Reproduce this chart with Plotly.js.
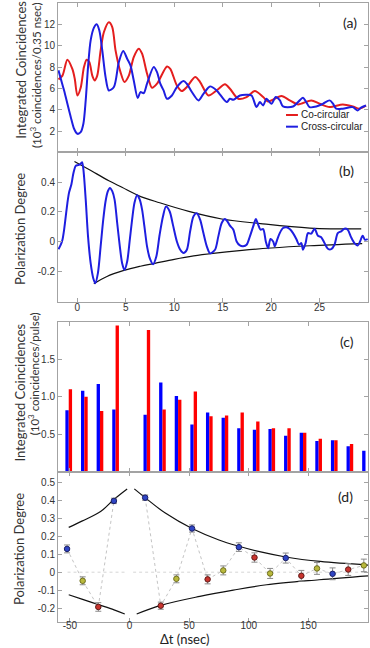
<!DOCTYPE html>
<html>
<head>
<meta charset="utf-8">
<script src="https://cdn.plot.ly/plotly-3.0.1.min.js"></script>
<style>
  body { margin: 0; background: #fff; }
  #chart { width: 370px; height: 648px; }
</style>
</head>
<body>
<div id="chart"></div>
<script>
// (a) integrated coincidences per 0.35 ns bin, in 10^3
const coT = [-1.95, -1.54, -1.03, -0.51, -0.27, 0, 0.34, 0.68, 0.96, 1.23, 1.54, 1.78, 2.05, 2.40, 2.74, 3.25, 3.60, 3.94, 4.45, 4.86,
  5.31, 5.82, 6.34, 6.68, 7.19, 7.71, 8.22, 9.25, 9.59, 10.27, 10.79, 11.30, 12.16, 12.67, 13.53, 14.38, 15.24, 15.75, 16.61, 17.47,
  18.32, 19.18, 19.69, 21.06, 21.92, 22.77, 24.14, 25.0, 26.03, 27.4, 28.42, 29.1, 29.8];
const coVal = [6.85, 7.2, 8.69, 7.8, 6.9, 5.34, 6.06, 8.0, 8.69, 8.47, 7.2, 6.75, 7.2, 9.56, 11.28, 12.2, 11.75, 9.56, 7.53, 6.6,
  7.2, 8.94, 9.72, 9.25, 7.4, 6.06, 6.44, 8.06, 7.84, 6.28, 5.75, 6.13, 7.06, 6.6, 5.34, 5.81, 6.38, 5.97, 5.03, 5.19,
  5.75, 5.19, 4.78, 5.28, 4.88, 4.5, 4.88, 4.56, 4.25, 4.5, 4.31, 4.1, 4.4];
const crossT = [-1.95, -1.71, -1.37, -1.03, -0.68, -0.34, 0, 0.34, 0.62, 0.86, 1.10, 1.37, 1.71, 1.99, 2.26, 2.57, 2.91, 3.25, 3.77, 4.28,
  4.73, 5.14, 5.48, 5.82, 6.23, 6.51, 6.85, 7.19, 7.88, 8.22, 8.56, 8.90, 9.25, 9.76, 10.27, 10.96, 11.30, 11.82, 12.5, 13.01,
  13.70, 14.38, 15.41, 15.75, 16.10, 16.78, 17.47, 17.98, 18.49, 18.84, 19.18, 19.52, 20.03, 20.48, 20.89, 21.23, 22.26, 22.95, 23.29, 23.63,
  23.97, 24.66, 25.34, 26.03, 26.37, 26.71, 27.40, 28.42, 28.94, 29.28, 29.79];
const crossVal = [7.69, 6.9, 5.8, 4.56, 3.31, 2.22, 1.75, 1.9, 2.69, 4.88, 8.0, 10.5, 11.69, 12.0, 11.44, 9.56, 7.06, 5.81, 6.13, 8.47,
  9.5, 8.78, 8.16, 6.75, 5.1, 5.66, 5.56, 6.44, 8.0, 7.53, 6.44, 5.81, 5.03, 5.34, 6.13, 6.69, 6.44, 5.66, 4.88, 5.5,
  6.19, 5.81, 4.72, 5.03, 4.94, 5.34, 5.4, 5.34, 4.25, 4.72, 4.41, 5.03, 4.56, 5.19, 4.9, 4.31, 4.31, 4.88, 5.13, 4.72,
  4.25, 4.3, 4.56, 4.88, 4.6, 4.1, 4.1, 4.25, 3.94, 4.2, 4.4];

// (b) polarization degree and its envelope
const polT = [-1.95, -1.71, -1.54, -1.37, -1.20, -1.03, -0.86, -0.62, -0.41, -0.17,
  0.07, 0.27, 0.48, 0.62, 0.86, 1.10, 1.37, 1.64, 1.85, 2.12,
  2.40, 2.67, 2.91, 3.15, 3.36, 3.60, 3.84, 4.11, 4.38, 4.62,
  4.86, 5.14, 5.41, 5.65, 5.89, 6.16, 6.44, 6.68, 6.92, 7.19,
  7.47, 7.81, 8.15, 8.49, 8.84, 9.14, 9.52, 9.86, 10.27, 10.62,
  10.96, 11.30, 11.64, 11.99, 12.33, 12.67, 13.01, 13.36, 13.70, 14.21,
  14.55, 14.90, 15.24, 15.48, 15.75, 16.10, 16.44, 16.78, 17.12, 17.47,
  17.81, 18.15, 18.42, 18.66, 18.90, 19.18, 19.45, 19.69, 19.93, 20.21,
  20.38, 20.62, 20.89, 21.23, 21.58, 21.92, 22.26, 22.60, 22.88, 23.12,
  23.29, 23.56, 23.80, 24.14, 24.49, 24.83, 25.17, 25.51, 25.86, 26.20,
  26.54, 26.88, 27.23, 27.57, 27.91, 28.25, 28.60, 28.94, 29.18, 29.45,
  29.69, 29.97];
const polVal = [-0.05, -0.02, 0.013, 0.08, 0.17, 0.26, 0.33, 0.385, 0.46, 0.51,
  0.515, 0.52, 0.535, 0.486, 0.283, 0.036, -0.144, -0.245, -0.279, -0.211,
  -0.031, 0.148, 0.272, 0.34, 0.362, 0.34, 0.283, 0.126, -0.031, -0.144,
  -0.189, -0.133, 0.013, 0.148, 0.26, 0.313, 0.283, 0.216, 0.103, -0.031,
  -0.11, -0.151, -0.099, 0.047, 0.171, 0.236, 0.205, 0.115, 0.002, -0.054,
  -0.076, -0.054, 0.07, 0.171, 0.191, 0.148, 0.058, -0.031, -0.078, -0.054,
  0.036, 0.126, 0.153, 0.137, 0.108, 0.081, 0.002, -0.025, -0.03, -0.02,
  0.036, 0.103, 0.153, 0.115, 0.081, 0.085, 0.002, -0.043, 0.018, 0.002,
  -0.031, 0.013, 0.058, 0.092, 0.097, 0.085, 0.058, 0.018, -0.02, -0.009,
  -0.054, -0.009, 0.058, 0.054, 0.088, 0.04, 0.031, -0.009, -0.047, -0.05,
  -0.02, 0.058, 0.07, 0.088, 0.081, 0.031, -0.009, -0.025, 0.002, 0.04,
  0.013, 0.018];
const envUpT = [-0.3, 1.2, 3.25, 4.6, 6.3, 8.5, 11.5, 14.9, 18.9, 24, 29.3];
const envUpV = [0.54, 0.486, 0.41, 0.366, 0.31, 0.262, 0.204, 0.153, 0.122, 0.092, 0.086];
const envLoT = [1.7, 3, 4.8, 6.5, 8.0, 10, 12, 14, 17, 20, 24, 29.4];
const envLoV = [-0.283, -0.235, -0.193, -0.165, -0.145, -0.118, -0.095, -0.078, -0.058, -0.042, -0.027, -0.013];

// (c) and (d): one entry per laser pulse delay (ns)
const pulseDelay = [-52.4, -39.3, -26.2, -13.1, 13.1, 26.2, 39.3, 52.4, 65.5, 78.6, 91.7, 104.8, 117.9, 131.0, 144.1, 157.2, 170.3, 183.4, 196.5];
const crossPulse = [0.82, 1.08, 1.17, 0.83, 0.76, 1.19, 1.01, 0.63, 0.79, 0.72, 0.58, 0.56, 0.57, 0.48, 0.52, 0.41, 0.42, 0.34, 0.28];
const coPulse = [1.10, 1.00, 0.81, 1.95, 1.89, 0.83, 0.96, 1.07, 0.74, 0.75, 0.79, 0.67, 0.58, 0.58, 0.52, 0.44, 0.42, 0.37, null];
const pulsePol = [0.13, -0.048, -0.194, 0.398, 0.416, -0.187, -0.037, 0.244, -0.04, 0.01, 0.14, 0.082, -0.007, 0.079, -0.02, 0.021, -0.009, 0.015, 0.038];
const pulsePolErr = [0.022, 0.022, 0.024, 0.015, 0.015, 0.02, 0.022, 0.02, 0.025, 0.025, 0.024, 0.026, 0.028, 0.028, 0.03, 0.033, 0.033, 0.033, 0.035];
const pulseGroup = ['b', 'y', 'r', 'b', 'b', 'r', 'y', 'b', 'r', 'y', 'b', 'r', 'y', 'b', 'r', 'y', 'b', 'r', 'y'];
// (d) fitted envelopes, left and right of zero delay
const dUpLeftT = [-51, -40, -24, -13, -2];
const dUpLeftV = [0.25, 0.285, 0.34, 0.407, 0.465];
const dLoLeftT = [-51, -40, -26, -13, -4];
const dLoLeftV = [-0.126, -0.15, -0.181, -0.21, -0.233];
const dUpRightT = [4, 13.1, 30, 52.4, 75, 91.7, 110, 131, 160, 200];
const dUpRightV = [0.465, 0.416, 0.33, 0.244, 0.18, 0.145, 0.113, 0.085, 0.06, 0.04];
const dLoRightT = [6, 26.2, 59, 87, 115, 159, 200];
const dLoRightV = [-0.233, -0.185, -0.135, -0.1, -0.07, -0.042, -0.02];
const zeroT = [-52, -2, null, 3, 200];
const zeroV = [0, 0, null, 0, 0];

// tick labels
const tTicks = [0, 5, 10, 15, 20, 25];
const aTicks = [2, 4, 6, 8, 10, 12];
const bTicks = [-0.2, 0, 0.2, 0.4];
const bTickText = ['-0.2', '0', '0.2', '0.4'];
const cTicks = [0.5, 1, 1.5];
const cTickText = ['0.5', '1.0', '1.5'];
const dTicks = [-0.2, -0.1, 0, 0.1, 0.2, 0.3, 0.4, 0.5];
const dTickText = ['-0.2', '-0.1', '0', '0.1', '0.2', '0.3', '0.4', '0.5'];
const dtTicks = [-50, 0, 50, 100, 150];
const dtTickText = ['-50', '0', '50', '100', '150'];

const RED = '#e41e1e', BLUE = '#1e1ee0';
const groupColor = { b: ['#2f45c4', '#1b1f66'], y: ['#b9b93c', '#6e6e1f'], r: ['#c9342e', '#5e1a18'] };

const traces = [
  { x: coT, y: coVal, xaxis: 'x', yaxis: 'y', mode: 'lines', line: { color: RED, width: 2, shape: 'spline', smoothing: 0.8 } },
  { x: crossT, y: crossVal, xaxis: 'x', yaxis: 'y', mode: 'lines', line: { color: BLUE, width: 2, shape: 'spline', smoothing: 0.8 } },

  { x: envUpT, y: envUpV, xaxis: 'x2', yaxis: 'y2', mode: 'lines', line: { color: '#111', width: 1.2, shape: 'spline' } },
  { x: envLoT, y: envLoV, xaxis: 'x2', yaxis: 'y2', mode: 'lines', line: { color: '#111', width: 1.2, shape: 'spline' } },
  { x: polT, y: polVal, xaxis: 'x2', yaxis: 'y2', mode: 'lines', line: { color: BLUE, width: 2, shape: 'spline', smoothing: 0.8 } },

  { type: 'bar', x: pulseDelay, y: crossPulse, xaxis: 'x3', yaxis: 'y3', width: 2.8, offset: -1.4, marker: { color: '#0000ff', line: { width: 0 } } },
  { type: 'bar', x: pulseDelay, y: coPulse, xaxis: 'x3', yaxis: 'y3', width: 2.8, offset: 1.4, marker: { color: '#ff0000', line: { width: 0 } } },

  { x: zeroT, y: zeroV, xaxis: 'x4', yaxis: 'y4', mode: 'lines', line: { color: '#d6d6d6', width: 1, dash: 'dot' } },
  { x: dUpLeftT, y: dUpLeftV, xaxis: 'x4', yaxis: 'y4', mode: 'lines', line: { color: '#111', width: 1.2, shape: 'spline' } },
  { x: dLoLeftT, y: dLoLeftV, xaxis: 'x4', yaxis: 'y4', mode: 'lines', line: { color: '#111', width: 1.2, shape: 'spline' } },
  { x: dUpRightT, y: dUpRightV, xaxis: 'x4', yaxis: 'y4', mode: 'lines', line: { color: '#111', width: 1.2, shape: 'spline' } },
  { x: dLoRightT, y: dLoRightV, xaxis: 'x4', yaxis: 'y4', mode: 'lines', line: { color: '#111', width: 1.2, shape: 'spline' } }
];

// dotted line through the points, broken at zero delay
const linkX = [], linkY = [];
pulseDelay.forEach((t, i) => {
  if (i > 0 && pulseDelay[i - 1] < 0 && t > 0) { linkX.push(null); linkY.push(null); }
  linkX.push(t); linkY.push(pulsePol[i]);
});
traces.push({ x: linkX, y: linkY, xaxis: 'x4', yaxis: 'y4', mode: 'lines', line: { color: '#c4c4c4', width: 1, dash: 'dot' } });

['b', 'y', 'r'].forEach(g => {
  const idx = pulseGroup.map((v, i) => v === g ? i : -1).filter(i => i >= 0);
  traces.push({
    x: idx.map(i => pulseDelay[i]), y: idx.map(i => pulsePol[i]),
    xaxis: 'x4', yaxis: 'y4', mode: 'markers',
    error_y: { type: 'data', array: idx.map(i => pulsePolErr[i]), color: '#8a8a8a', thickness: 1, width: 3 },
    marker: { color: groupColor[g][0], size: 5.5, line: { color: groupColor[g][1], width: 1 } }
  });
});

const frame = {
  showline: true, linecolor: '#a3a3a3', linewidth: 1, mirror: 'ticks',
  ticks: 'inside', ticklen: 4, tickcolor: '#a3a3a3', tickwidth: 1,
  showgrid: false, zeroline: false, fixedrange: true,
  tickfont: { family: 'Liberation Sans, Arial, sans-serif', size: 10, color: '#333' }
};

const titleFont = { family: 'Lato, Liberation Sans, sans-serif', size: 13, color: '#333' };
const subFont = { family: 'Lato, Liberation Sans, sans-serif', size: 11.5, color: '#333' };
const labelFont = { family: 'Lato, Liberation Sans, sans-serif', size: 14, color: '#222' };
const legFont = { family: 'Liberation Sans, Arial, sans-serif', size: 10, color: '#222' };

function vtitle(text, x, y, font) {
  return { text, x, y, xref: 'paper', yref: 'paper', textangle: -90, showarrow: false,
    xanchor: 'center', yanchor: 'middle', font };
}
function panel(text, x, y) {
  return { text, x, y, xref: 'paper', yref: 'paper', showarrow: false, xanchor: 'center', yanchor: 'middle', font: labelFont };
}

const layout = {
  width: 370, height: 648,
  margin: { l: 58, r: 2, t: 3, b: 26 },
  paper_bgcolor: '#fff', plot_bgcolor: '#fff',
  showlegend: false,
  xaxis: Object.assign({}, frame, { domain: [0, 1], range: [-2, 30], anchor: 'y', tickvals: tTicks, showticklabels: false }),
  yaxis: Object.assign({}, frame, { domain: [0.7585, 1], range: [0, 14], anchor: 'x', tickvals: aTicks }),
  xaxis2: Object.assign({}, frame, { domain: [0, 1], range: [-2, 30], anchor: 'y2', tickvals: tTicks, ticklabelstandoff: -4 }),
  yaxis2: Object.assign({}, frame, { domain: [0.517, 0.7585], range: [-0.405, 0.6], anchor: 'x2', tickvals: bTicks, ticktext: bTickText }),
  xaxis3: Object.assign({}, frame, { domain: [0, 1], range: [-60, 200], anchor: 'y3', tickvals: dtTicks, showticklabels: false }),
  yaxis3: Object.assign({}, frame, { domain: [0.2428, 0.4851], range: [0, 2], anchor: 'x3', tickvals: cTicks, ticktext: cTickText }),
  xaxis4: Object.assign({}, frame, { domain: [0, 1], range: [-60, 200], anchor: 'y4', tickvals: dtTicks, ticktext: dtTickText, ticklabelstandoff: -6 }),
  yaxis4: Object.assign({}, frame, { domain: [0, 0.2428], range: [-0.278, 0.561], anchor: 'x4', tickvals: dTicks, ticktext: dTickText }),
  barmode: 'overlay',
  annotations: [
    vtitle('Integrated Coincidences', -0.1203, 0.8918, titleFont),
    vtitle('(10<sup>3</sup> coincidences/0.35 nsec)', -0.071, 0.8837, subFont),
    vtitle('Polarization Degree', -0.1226, 0.635, titleFont),
    vtitle('Integrated Coincidences', -0.1226, 0.3708, titleFont),
    vtitle('(10<sup>3</sup> coincidences/pulse)', -0.0796, 0.4006, subFont),
    vtitle('Polarization Degree', -0.1258, 0.118, titleFont),
    { text: 'Δt (nsec)', x: 0.408, y: -0.042, xref: 'paper', yref: 'paper', showarrow: false,
      xanchor: 'center', yanchor: 'bottom', borderpad: 0, font: { family: 'Lato, Liberation Sans, sans-serif', size: 13, color: '#222' } },
    panel('(a)', 0.942, 0.9677),
    panel('(b)', 0.932, 0.729),
    panel('(c)', 0.932, 0.4528),
    panel('(d)', 0.926, 0.2024),
    { text: 'Co-circular', x: 0.776, y: 0.8191, xref: 'paper', yref: 'paper', showarrow: false, xanchor: 'left', yanchor: 'middle', font: legFont },
    { text: 'Cross-circular', x: 0.776, y: 0.8002, xref: 'paper', yref: 'paper', showarrow: false, xanchor: 'left', yanchor: 'middle', font: legFont }
  ],
  shapes: [
    { type: 'line', xref: 'paper', yref: 'paper', x0: 0.7355, x1: 0.774, y0: 0.8191, y1: 0.8191, line: { color: RED, width: 2 } },
    { type: 'line', xref: 'paper', yref: 'paper', x0: 0.7355, x1: 0.774, y0: 0.8002, y1: 0.8002, line: { color: BLUE, width: 2 } }
  ]
};

Plotly.newPlot('chart', traces, layout, { displayModeBar: false, staticPlot: true });
</script>
</body>
</html>
